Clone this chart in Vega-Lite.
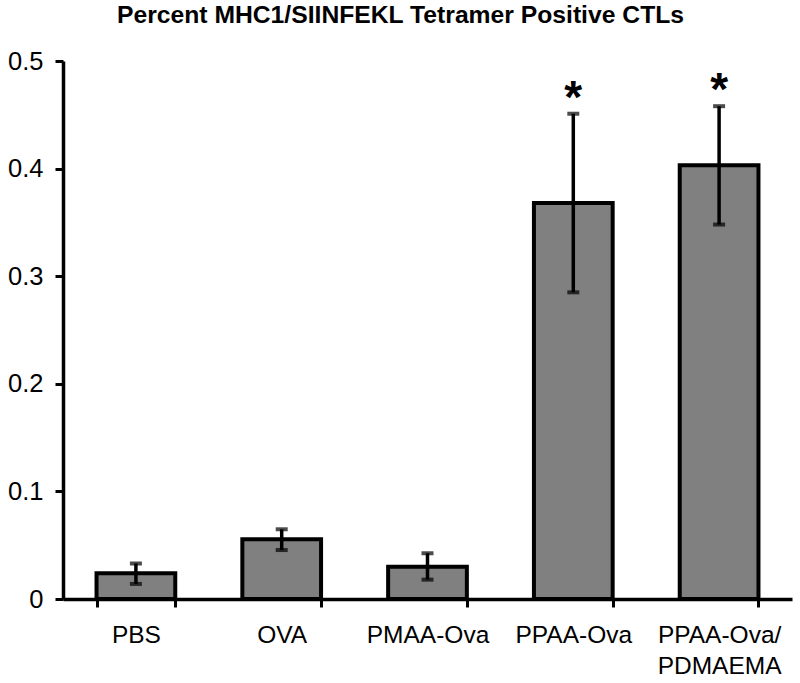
{
  "$schema": "https://vega.github.io/schema/vega-lite/v6.json",
  "width": 729,
  "height": 538,
  "autosize": {"type": "none"},
  "padding": {"left": 63, "top": 61, "right": 8, "bottom": 84},
  "background": "white",
  "title": {
    "text": "Percent MHC1/SIINFEKL Tetramer Positive CTLs",
    "font": "Liberation Sans",
    "fontSize": 24.7,
    "fontWeight": "bold",
    "color": "black",
    "anchor": "middle",
    "frame": "group",
    "dx": -27,
    "offset": 21
  },
  "data": {
    "values": [
      {"group": "PBS", "mean": 0.024, "lo": 0.014, "hi": 0.033, "sig": ""},
      {"group": "OVA", "mean": 0.0555, "lo": 0.0455, "hi": 0.0648, "sig": ""},
      {"group": "PMAA-Ova", "mean": 0.030, "lo": 0.018, "hi": 0.0425, "sig": ""},
      {"group": "PPAA-Ova", "mean": 0.368, "lo": 0.285, "hi": 0.451, "sig": "*"},
      {"group": "PPAA-Ova/PDMAEMA", "mean": 0.403, "lo": 0.348, "hi": 0.458, "sig": "*"}
    ]
  },
  "encoding": {
    "x": {
      "field": "group",
      "type": "nominal",
      "sort": null,
      "scale": {"paddingInner": 0.46, "paddingOuter": 0.23},
      "axis": {
        "title": null,
        "labelAngle": 0,
        "labelFont": "Liberation Sans",
        "labelFontSize": 24.5,
        "labelColor": "black",
        "labelPadding": 16,
        "labelLineHeight": 31,
        "labelBaseline": "top",
        "labelExpr": "datum.label == 'PPAA-Ova/PDMAEMA' ? ['PPAA-Ova/', 'PDMAEMA'] : datum.label",
        "tickBand": "extent",
        "tickSize": 8,
        "tickWidth": 3,
        "tickColor": "black",
        "domainColor": "black",
        "domainWidth": 3.5
      }
    }
  },
  "layer": [
    {
      "mark": {"type": "bar", "fill": "#808080", "stroke": "black", "strokeWidth": 4},
      "encoding": {
        "y": {
          "field": "mean",
          "type": "quantitative",
          "scale": {"domain": [0, 0.5], "nice": false},
          "axis": {
            "title": null,
            "grid": false,
            "values": [0, 0.1, 0.2, 0.3, 0.4, 0.5],
            "labelExpr": "datum.value == 0 ? '0' : format(datum.value, '.1f')",
            "labelFont": "Liberation Sans",
            "labelFontSize": 25.5,
            "labelColor": "black",
            "labelPadding": 12,
            "tickSize": 8,
            "tickWidth": 3,
            "tickColor": "black",
            "domainColor": "black",
            "domainWidth": 3.5
          }
        }
      }
    },
    {
      "mark": {"type": "rule", "color": "black", "strokeWidth": 3.5},
      "encoding": {
        "y": {"field": "lo", "type": "quantitative"},
        "y2": {"field": "hi"}
      }
    },
    {
      "mark": {"type": "tick", "color": "black", "thickness": 4, "size": 12, "orient": "horizontal"},
      "encoding": {"y": {"field": "lo", "type": "quantitative"}}
    },
    {
      "mark": {"type": "tick", "color": "black", "thickness": 4, "size": 12, "orient": "horizontal"},
      "encoding": {"y": {"field": "hi", "type": "quantitative"}}
    },
    {
      "mark": {"type": "text", "font": "Liberation Sans", "fontSize": 46, "fontWeight": "bold", "color": "black", "baseline": "alphabetic", "dy": -1},
      "encoding": {
        "y": {"field": "hi", "type": "quantitative"},
        "text": {"field": "sig"}
      }
    }
  ],
  "config": {
    "view": {"stroke": null}
  }
}
